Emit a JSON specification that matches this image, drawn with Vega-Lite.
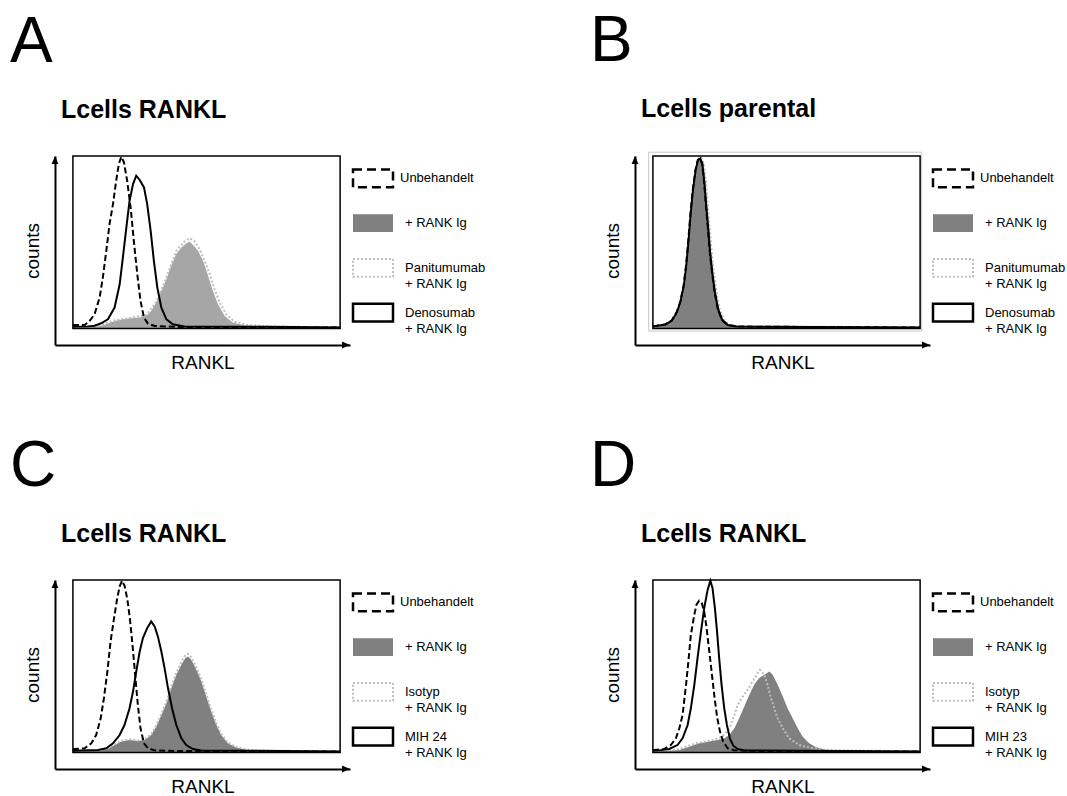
{
  "$schema": "https://vega.github.io/schema/vega-lite/v6.json",
  "background": "white",
  "padding": {"left": 10, "top": 9, "right": 0, "bottom": 0},
  "columns": 2,
  "spacing": {"row": 62, "column": 104},
  "datasets": {
    "A_untreated": [{"fluorescence":0,"counts":2},{"fluorescence":6,"counts":2},{"fluorescence":44,"counts":2},{"fluorescence":62,"counts":4.3},{"fluorescence":81,"counts":8.2},{"fluorescence":100,"counts":17.9},{"fluorescence":112,"counts":29.5},{"fluorescence":125,"counts":45},{"fluorescence":137,"counts":60.5},{"fluorescence":150,"counts":72.1},{"fluorescence":162,"counts":85.7},{"fluorescence":172,"counts":95.4},{"fluorescence":181,"counts":99.6},{"fluorescence":191,"counts":96.3},{"fluorescence":203,"counts":85.7},{"fluorescence":216,"counts":70.2},{"fluorescence":228,"counts":50.8},{"fluorescence":241,"counts":31.4},{"fluorescence":253,"counts":15.9},{"fluorescence":266,"counts":6.2},{"fluorescence":281,"counts":2.8},{"fluorescence":306,"counts":1.4},{"fluorescence":400,"counts":0.8},{"fluorescence":1000,"counts":0.5}],
    "A_antibody": [{"fluorescence":0,"counts":1},{"fluorescence":56,"counts":1.2},{"fluorescence":81,"counts":1.6},{"fluorescence":106,"counts":3},{"fluorescence":131,"counts":5.3},{"fluorescence":156,"counts":12.1},{"fluorescence":175,"counts":25.6},{"fluorescence":187,"counts":41.1},{"fluorescence":200,"counts":58.5},{"fluorescence":212,"counts":74},{"fluorescence":225,"counts":83.7},{"fluorescence":237,"counts":88.6},{"fluorescence":250,"counts":86.1},{"fluorescence":266,"counts":81.8},{"fluorescence":278,"counts":72.1},{"fluorescence":291,"counts":56.6},{"fluorescence":303,"counts":39.2},{"fluorescence":316,"counts":23.7},{"fluorescence":331,"counts":12.1},{"fluorescence":350,"counts":5.3},{"fluorescence":374,"counts":2.4},{"fluorescence":418,"counts":1.2},{"fluorescence":730,"counts":1},{"fluorescence":1000,"counts":0.5}],
    "A_rankig": [{"fluorescence":0,"counts":0.5},{"fluorescence":80,"counts":1},{"fluorescence":106,"counts":1.6},{"fluorescence":131,"counts":2.8},{"fluorescence":156,"counts":4.3},{"fluorescence":187,"counts":5.3},{"fluorescence":218,"counts":5.9},{"fluorescence":250,"counts":6.3},{"fluorescence":275,"counts":7.4},{"fluorescence":293,"counts":10.1},{"fluorescence":312,"counts":15},{"fluorescence":331,"counts":21.7},{"fluorescence":350,"counts":28.5},{"fluorescence":368,"counts":36.3},{"fluorescence":387,"counts":43.1},{"fluorescence":406,"counts":46.9},{"fluorescence":424,"counts":49.3},{"fluorescence":437,"counts":50.4},{"fluorescence":453,"counts":47.9},{"fluorescence":468,"counts":45},{"fluorescence":487,"counts":39.2},{"fluorescence":506,"counts":30.5},{"fluorescence":524,"counts":21.7},{"fluorescence":543,"counts":14},{"fluorescence":568,"counts":7.2},{"fluorescence":599,"counts":3.3},{"fluorescence":643,"counts":1.8},{"fluorescence":705,"counts":1},{"fluorescence":1000,"counts":0.5}],
    "A_control": [{"fluorescence":80,"counts":1.2},{"fluorescence":106,"counts":2},{"fluorescence":156,"counts":4.7},{"fluorescence":218,"counts":6.2},{"fluorescence":275,"counts":7.8},{"fluorescence":312,"counts":15.5},{"fluorescence":350,"counts":29.5},{"fluorescence":387,"counts":45},{"fluorescence":418,"counts":50.4},{"fluorescence":437,"counts":52.3},{"fluorescence":456,"counts":50.4},{"fluorescence":474,"counts":46},{"fluorescence":493,"counts":39.2},{"fluorescence":512,"counts":31.4},{"fluorescence":530,"counts":22.7},{"fluorescence":549,"counts":15},{"fluorescence":574,"counts":8.2},{"fluorescence":605,"counts":3.9},{"fluorescence":655,"counts":2},{"fluorescence":730,"counts":1.2},{"fluorescence":1000,"counts":0.6}],
    "B_rankig": [{"fluorescence":0,"counts":1},{"fluorescence":5,"counts":1.1},{"fluorescence":49,"counts":2.2},{"fluorescence":74,"counts":4.5},{"fluorescence":92,"counts":9.4},{"fluorescence":105,"counts":15.2},{"fluorescence":117,"counts":24.9},{"fluorescence":126,"counts":36.5},{"fluorescence":134,"counts":50.1},{"fluorescence":142,"counts":65.6},{"fluorescence":151,"counts":80.1},{"fluorescence":161,"counts":91.7},{"fluorescence":171,"counts":97.5},{"fluorescence":180,"counts":98.5},{"fluorescence":189,"counts":95.6},{"fluorescence":196,"counts":85.9},{"fluorescence":203,"counts":72.3},{"fluorescence":211,"counts":57.8},{"fluorescence":218,"counts":44.3},{"fluorescence":226,"counts":32.6},{"fluorescence":236,"counts":21},{"fluorescence":248,"counts":11.3},{"fluorescence":263,"counts":5.1},{"fluorescence":283,"counts":2},{"fluorescence":317,"counts":1.1},{"fluorescence":1000,"counts":0.6}],
    "B_control": [{"fluorescence":0,"counts":1.3},{"fluorescence":49,"counts":2.5},{"fluorescence":74,"counts":4.8},{"fluorescence":92,"counts":9.8},{"fluorescence":105,"counts":15.6},{"fluorescence":117,"counts":25.3},{"fluorescence":126,"counts":37},{"fluorescence":134,"counts":50.6},{"fluorescence":142,"counts":66},{"fluorescence":151,"counts":80.5},{"fluorescence":161,"counts":92},{"fluorescence":171,"counts":98},{"fluorescence":180,"counts":99.2},{"fluorescence":190,"counts":96},{"fluorescence":198,"counts":86},{"fluorescence":205,"counts":72.3},{"fluorescence":213,"counts":57.8},{"fluorescence":220,"counts":44.3},{"fluorescence":228,"counts":32.6},{"fluorescence":238,"counts":21},{"fluorescence":250,"counts":11.3},{"fluorescence":265,"counts":5.1},{"fluorescence":286,"counts":2},{"fluorescence":320,"counts":1.2},{"fluorescence":1000,"counts":0.7}],
    "B_untreated": [{"fluorescence":0,"counts":1.2},{"fluorescence":45,"counts":2.3},{"fluorescence":70,"counts":4.6},{"fluorescence":89,"counts":9.5},{"fluorescence":102,"counts":15.3},{"fluorescence":115,"counts":25},{"fluorescence":124,"counts":36.6},{"fluorescence":132,"counts":50.2},{"fluorescence":140,"counts":65.7},{"fluorescence":149,"counts":80.2},{"fluorescence":159,"counts":91.8},{"fluorescence":168,"counts":97.6},{"fluorescence":176,"counts":98.8},{"fluorescence":184,"counts":95.5},{"fluorescence":191,"counts":85.8},{"fluorescence":198,"counts":72.2},{"fluorescence":206,"counts":57.7},{"fluorescence":213,"counts":44.2},{"fluorescence":221,"counts":32.5},{"fluorescence":231,"counts":20.9},{"fluorescence":243,"counts":11.2},{"fluorescence":258,"counts":5},{"fluorescence":279,"counts":2},{"fluorescence":313,"counts":1.1},{"fluorescence":1000,"counts":0.5}],
    "B_antibody": [{"fluorescence":0,"counts":1.2},{"fluorescence":47,"counts":2.3},{"fluorescence":72,"counts":4.6},{"fluorescence":90,"counts":9.5},{"fluorescence":103,"counts":15.3},{"fluorescence":116,"counts":25},{"fluorescence":125,"counts":36.6},{"fluorescence":133,"counts":50.2},{"fluorescence":141,"counts":65.7},{"fluorescence":150,"counts":80.2},{"fluorescence":160,"counts":91.8},{"fluorescence":169,"counts":97.6},{"fluorescence":177,"counts":98.6},{"fluorescence":185,"counts":95.5},{"fluorescence":192,"counts":85.8},{"fluorescence":199,"counts":72.2},{"fluorescence":207,"counts":57.7},{"fluorescence":214,"counts":44.2},{"fluorescence":222,"counts":32.5},{"fluorescence":232,"counts":20.9},{"fluorescence":244,"counts":11.2},{"fluorescence":259,"counts":5},{"fluorescence":280,"counts":2},{"fluorescence":314,"counts":1.1},{"fluorescence":1000,"counts":0.5}],
    "C_untreated": [{"fluorescence":0,"counts":2},{"fluorescence":6,"counts":2},{"fluorescence":44,"counts":2.4},{"fluorescence":69,"counts":5.3},{"fluorescence":87,"counts":10.1},{"fluorescence":104,"counts":19.8},{"fluorescence":116,"counts":31.4},{"fluorescence":129,"counts":46.9},{"fluorescence":141,"counts":64.4},{"fluorescence":154,"counts":77.9},{"fluorescence":166,"counts":89.5},{"fluorescence":175,"counts":96.3},{"fluorescence":184,"counts":99.6},{"fluorescence":194,"counts":96.3},{"fluorescence":204,"counts":88.6},{"fluorescence":213,"counts":77.9},{"fluorescence":223,"counts":62.4},{"fluorescence":233,"counts":45},{"fluorescence":243,"counts":27.6},{"fluorescence":253,"counts":14},{"fluorescence":266,"counts":5.3},{"fluorescence":281,"counts":2.4},{"fluorescence":306,"counts":1.2},{"fluorescence":400,"counts":0.8},{"fluorescence":1000,"counts":0.5}],
    "C_antibody": [{"fluorescence":0,"counts":1},{"fluorescence":94,"counts":1.4},{"fluorescence":125,"counts":2.4},{"fluorescence":150,"counts":5.3},{"fluorescence":175,"counts":10.1},{"fluorescence":193,"counts":15.9},{"fluorescence":212,"counts":25.6},{"fluorescence":225,"counts":35.3},{"fluorescence":237,"counts":46.9},{"fluorescence":250,"counts":58.5},{"fluorescence":262,"counts":66.3},{"fluorescence":278,"counts":72.1},{"fluorescence":293,"counts":76},{"fluorescence":306,"counts":73.1},{"fluorescence":318,"counts":67.3},{"fluorescence":331,"counts":58.5},{"fluorescence":343,"counts":48.9},{"fluorescence":356,"counts":37.2},{"fluorescence":371,"counts":25.6},{"fluorescence":387,"counts":15.9},{"fluorescence":406,"counts":8.2},{"fluorescence":424,"counts":4.3},{"fluorescence":449,"counts":2},{"fluorescence":481,"counts":1.2},{"fluorescence":1000,"counts":0.5}],
    "C_rankig": [{"fluorescence":0,"counts":0.5},{"fluorescence":100,"counts":1},{"fluorescence":131,"counts":2},{"fluorescence":156,"counts":4.3},{"fluorescence":181,"counts":6.3},{"fluorescence":212,"counts":7.2},{"fluorescence":243,"counts":6.6},{"fluorescence":268,"counts":7.2},{"fluorescence":293,"counts":10.1},{"fluorescence":312,"counts":15},{"fluorescence":331,"counts":21.7},{"fluorescence":350,"counts":28.5},{"fluorescence":368,"counts":37.2},{"fluorescence":387,"counts":45},{"fluorescence":406,"counts":50.8},{"fluorescence":421,"counts":54.7},{"fluorescence":431,"counts":55.6},{"fluorescence":443,"counts":53.7},{"fluorescence":462,"counts":47.9},{"fluorescence":481,"counts":41.1},{"fluorescence":499,"counts":32.4},{"fluorescence":518,"counts":23.7},{"fluorescence":537,"counts":15.9},{"fluorescence":555,"counts":10.1},{"fluorescence":580,"counts":5.3},{"fluorescence":612,"counts":2.8},{"fluorescence":655,"counts":1.4},{"fluorescence":705,"counts":1},{"fluorescence":1000,"counts":0.5}],
    "C_control": [{"fluorescence":100,"counts":1.3},{"fluorescence":131,"counts":2.4},{"fluorescence":156,"counts":4.7},{"fluorescence":181,"counts":6.8},{"fluorescence":212,"counts":7.6},{"fluorescence":243,"counts":7},{"fluorescence":268,"counts":7.6},{"fluorescence":293,"counts":10.6},{"fluorescence":312,"counts":15.6},{"fluorescence":331,"counts":22.4},{"fluorescence":350,"counts":29.5},{"fluorescence":368,"counts":38.2},{"fluorescence":387,"counts":46.2},{"fluorescence":406,"counts":52.4},{"fluorescence":421,"counts":56.6},{"fluorescence":431,"counts":57.1},{"fluorescence":443,"counts":55.2},{"fluorescence":462,"counts":49.3},{"fluorescence":481,"counts":42.4},{"fluorescence":499,"counts":33.6},{"fluorescence":518,"counts":24.8},{"fluorescence":537,"counts":16.8},{"fluorescence":555,"counts":10.8},{"fluorescence":580,"counts":5.8},{"fluorescence":612,"counts":3.1},{"fluorescence":655,"counts":1.6},{"fluorescence":705,"counts":1.1},{"fluorescence":1000,"counts":0.6}],
    "D_untreated": [{"fluorescence":0,"counts":1.4},{"fluorescence":5,"counts":1.4},{"fluorescence":42,"counts":2},{"fluorescence":67,"counts":4.3},{"fluorescence":86,"counts":8.2},{"fluorescence":99,"counts":14},{"fluorescence":111,"counts":21.7},{"fluorescence":124,"counts":39.2},{"fluorescence":134,"counts":54.7},{"fluorescence":142,"counts":68.2},{"fluorescence":155,"counts":79.9},{"fluorescence":163,"counts":85.7},{"fluorescence":173,"counts":88},{"fluorescence":183,"counts":86.6},{"fluorescence":192,"counts":81.8},{"fluorescence":201,"counts":72.1},{"fluorescence":211,"counts":58.6},{"fluorescence":221,"counts":45},{"fluorescence":231,"counts":31.4},{"fluorescence":241,"counts":19.8},{"fluorescence":251,"counts":12.1},{"fluorescence":263,"counts":6.3},{"fluorescence":280,"counts":2.4},{"fluorescence":305,"counts":1.2},{"fluorescence":400,"counts":0.8},{"fluorescence":1000,"counts":0.5}],
    "D_antibody": [{"fluorescence":0,"counts":1},{"fluorescence":24,"counts":1.2},{"fluorescence":61,"counts":2},{"fluorescence":92,"counts":4.3},{"fluorescence":111,"counts":8.2},{"fluorescence":130,"counts":15.9},{"fluorescence":142,"counts":25.6},{"fluorescence":155,"counts":39.2},{"fluorescence":167,"counts":54.7},{"fluorescence":180,"counts":70.2},{"fluorescence":192,"counts":83.7},{"fluorescence":205,"counts":94.4},{"fluorescence":215,"counts":99.6},{"fluorescence":223,"counts":95.4},{"fluorescence":232,"counts":83.7},{"fluorescence":240,"counts":70.2},{"fluorescence":248,"counts":54.7},{"fluorescence":257,"counts":39.2},{"fluorescence":267,"counts":25.6},{"fluorescence":277,"counts":15.9},{"fluorescence":288,"counts":8.2},{"fluorescence":301,"counts":3.9},{"fluorescence":317,"counts":2},{"fluorescence":342,"counts":1.2},{"fluorescence":1000,"counts":0.5}],
    "D_rankig": [{"fluorescence":0,"counts":0.5},{"fluorescence":60,"counts":1},{"fluorescence":99,"counts":1.4},{"fluorescence":136,"counts":3.3},{"fluorescence":173,"counts":5.3},{"fluorescence":211,"counts":6.3},{"fluorescence":242,"counts":7.2},{"fluorescence":267,"counts":8.2},{"fluorescence":286,"counts":10.1},{"fluorescence":305,"counts":14},{"fluorescence":323,"counts":19.8},{"fluorescence":342,"counts":26.6},{"fluorescence":361,"counts":33.4},{"fluorescence":379,"counts":39.2},{"fluorescence":398,"counts":43.1},{"fluorescence":417,"counts":45},{"fluorescence":436,"counts":46.9},{"fluorescence":448,"counts":45},{"fluorescence":467,"counts":39.2},{"fluorescence":486,"counts":32.4},{"fluorescence":504,"counts":25.6},{"fluorescence":523,"counts":19.8},{"fluorescence":542,"counts":14},{"fluorescence":560,"counts":9.2},{"fluorescence":585,"counts":5.3},{"fluorescence":610,"counts":3},{"fluorescence":648,"counts":1.6},{"fluorescence":685,"counts":1},{"fluorescence":1000,"counts":0.5}],
    "D_control": [{"fluorescence":60,"counts":1.2},{"fluorescence":99,"counts":2},{"fluorescence":161,"counts":5.3},{"fluorescence":223,"counts":7.2},{"fluorescence":261,"counts":9.2},{"fluorescence":286,"counts":14},{"fluorescence":305,"counts":21.7},{"fluorescence":317,"counts":27.6},{"fluorescence":336,"counts":32.4},{"fluorescence":354,"counts":36.3},{"fluorescence":373,"counts":41.1},{"fluorescence":392,"counts":46},{"fluorescence":401,"counts":47.9},{"fluorescence":417,"counts":45},{"fluorescence":429,"counts":39.2},{"fluorescence":442,"counts":31.4},{"fluorescence":454,"counts":25.6},{"fluorescence":467,"counts":19.8},{"fluorescence":486,"counts":14},{"fluorescence":510,"counts":8.2},{"fluorescence":548,"counts":4.3},{"fluorescence":598,"counts":2.4},{"fluorescence":648,"counts":1.4},{"fluorescence":1000,"counts":0.6}],
    "legend_AB": [{"kind":"untreated","label":"Unbehandelt"},{"kind":"rankig","label":"+ RANK Ig"},{"kind":"control","label":"Panitumumab\n+ RANK Ig"},{"kind":"antibody","label":"Denosumab\n+ RANK Ig"}],
    "legend_C": [{"kind":"untreated","label":"Unbehandelt"},{"kind":"rankig","label":"+ RANK Ig"},{"kind":"control","label":"Isotyp\n+ RANK Ig"},{"kind":"antibody","label":"MIH 24\n+ RANK Ig"}],
    "legend_D": [{"kind":"untreated","label":"Unbehandelt"},{"kind":"rankig","label":"+ RANK Ig"},{"kind":"control","label":"Isotyp\n+ RANK Ig"},{"kind":"antibody","label":"MIH 23\n+ RANK Ig"}]
  },
  "concat": [
    {
      "title": {"text": "A", "fontSize": 64, "fontWeight": "normal", "dx": -45, "offset": 23},
      "bounds": "flush", "spacing": 3,
      "hconcat": [
        {
          "title": {"text": "Lcells RANKL", "fontSize": 25, "fontWeight": "bold", "dx": 6, "offset": 30},
          "width": 295, "height": 189,
          "layer": [
            {"data": {"name": "A_rankig"}, "mark": {"type": "area", "color": "#a6a6a6", "opacity": 1}, "encoding": {"x": {"field": "fluorescence", "type": "quantitative", "scale": {"domain": [-67, 1037], "nice": false, "zero": false}, "axis": {"title": "RANKL"}}, "y": {"field": "counts", "type": "quantitative", "scale": {"domain": [-9.6, 100], "nice": false, "zero": false}, "axis": {"title": "counts"}}, "y2": {"datum": 0}}},
            {"data": {"name": "A_control"}, "mark": {"type": "line", "color": "#bdbdbd", "strokeWidth": 2, "strokeDash": [2, 2]}, "encoding": {"x": {"field": "fluorescence", "type": "quantitative", "axis": {"title": "RANKL"}}, "y": {"field": "counts", "type": "quantitative", "axis": {"title": "counts"}}}},
            {"data": {"name": "A_untreated"}, "mark": {"type": "line", "color": "black", "strokeWidth": 2, "strokeDash": [6, 3]}, "encoding": {"x": {"field": "fluorescence", "type": "quantitative", "axis": {"title": "RANKL"}}, "y": {"field": "counts", "type": "quantitative", "axis": {"title": "counts"}}}},
            {"data": {"name": "A_antibody"}, "mark": {"type": "line", "color": "black", "strokeWidth": 2}, "encoding": {"x": {"field": "fluorescence", "type": "quantitative", "axis": {"title": "RANKL"}}, "y": {"field": "counts", "type": "quantitative", "axis": {"title": "counts"}}}},
            {"data": {"values": [{"part": "frame"}]}, "mark": {"type": "rect", "fill": "transparent", "stroke": "black", "strokeWidth": 1.5}, "encoding": {"x": {"datum": 0, "type": "quantitative", "axis": {"title": "RANKL"}}, "x2": {"datum": 1000}, "y": {"datum": 0, "type": "quantitative", "axis": {"title": "counts"}}, "y2": {"datum": 100}}},
            {"data": {"values": [{"part": "arrow"}]}, "mark": {"type": "point", "shape": "M-1,-0.85L1,0L-1,0.85Z", "size": 64, "filled": true, "color": "black", "opacity": 1}, "encoding": {"x": {"datum": 1022, "type": "quantitative", "axis": {"title": "RANKL"}}, "y": {"datum": -9.6, "type": "quantitative", "axis": {"title": "counts"}}}},
            {"data": {"values": [{"part": "arrow"}]}, "mark": {"type": "point", "shape": "M-0.85,1L0,-1L0.85,1Z", "size": 64, "filled": true, "color": "black", "opacity": 1}, "encoding": {"x": {"datum": -67, "type": "quantitative", "axis": {"title": "RANKL"}}, "y": {"datum": 97.7, "type": "quantitative", "axis": {"title": "counts"}}}}
          ]
        },
        {
          "width": 132, "height": 179,
          "data": {"name": "legend_AB"},
          "encoding": {"y": {"field": "kind", "type": "nominal", "scale": {"type": "band", "domain": ["untreated", "rankig", "control", "antibody"], "paddingInner": 0.6, "paddingOuter": 0.3}, "axis": null}},
          "layer": [
            {"transform": [{"filter": "datum.kind === 'untreated'"}], "mark": {"type": "rect", "fill": "transparent", "stroke": "black", "strokeWidth": 2.5, "strokeDash": [9, 5]}, "encoding": {"x": {"datum": 0, "type": "quantitative", "scale": {"domain": [0, 132], "nice": false, "zero": false}, "axis": null}, "x2": {"datum": 40}}},
            {"transform": [{"filter": "datum.kind === 'rankig'"}], "mark": {"type": "rect", "fill": "#808080"}, "encoding": {"x": {"datum": 0, "type": "quantitative", "axis": null}, "x2": {"datum": 40}}},
            {"transform": [{"filter": "datum.kind === 'control'"}], "mark": {"type": "rect", "fill": "transparent", "stroke": "#c0c0c0", "strokeWidth": 2, "strokeDash": [2, 2]}, "encoding": {"x": {"datum": 0, "type": "quantitative", "axis": null}, "x2": {"datum": 40}}},
            {"transform": [{"filter": "datum.kind === 'antibody'"}], "mark": {"type": "rect", "fill": "transparent", "stroke": "black", "strokeWidth": 2.5}, "encoding": {"x": {"datum": 0, "type": "quantitative", "axis": null}, "x2": {"datum": 40}}},
            {"transform": [{"filter": "datum.kind === 'untreated'"}], "mark": {"type": "text", "align": "left", "baseline": "middle", "fontSize": 13, "color": "black"}, "encoding": {"x": {"datum": 47, "type": "quantitative", "axis": null}, "text": {"field": "label"}}},
            {"transform": [{"filter": "datum.kind !== 'untreated'"}], "mark": {"type": "text", "align": "left", "baseline": "middle", "fontSize": 13, "lineBreak": "\n", "lineHeight": 16, "color": "black"}, "encoding": {"x": {"datum": 52, "type": "quantitative", "axis": null}, "text": {"field": "label"}}}
          ]
        }
      ]
    },
    {
      "title": {"text": "B", "fontSize": 64, "fontWeight": "normal", "dx": -45, "offset": 23},
      "bounds": "flush", "spacing": 3,
      "hconcat": [
        {
          "title": {"text": "Lcells parental", "fontSize": 25, "fontWeight": "bold", "dx": 6, "offset": 30},
          "width": 295, "height": 189,
          "layer": [
            {"data": {"values": [{"part": "outer frame"}]}, "mark": {"type": "rect", "fill": "transparent", "stroke": "#c8c8c8", "strokeWidth": 1}, "encoding": {"x": {"datum": -16, "type": "quantitative", "scale": {"domain": [-67, 1037], "nice": false, "zero": false}, "axis": {"title": "RANKL"}}, "x2": {"datum": 1006}, "y": {"datum": -1.5, "type": "quantitative", "scale": {"domain": [-9.6, 100], "nice": false, "zero": false}, "axis": {"title": "counts"}}, "y2": {"datum": 102.2}}},
            {"data": {"name": "B_rankig"}, "mark": {"type": "area", "color": "#808080", "opacity": 1}, "encoding": {"x": {"field": "fluorescence", "type": "quantitative", "scale": {"domain": [-67, 1037], "nice": false, "zero": false}, "axis": {"title": "RANKL"}}, "y": {"field": "counts", "type": "quantitative", "scale": {"domain": [-9.6, 100], "nice": false, "zero": false}, "axis": {"title": "counts"}}, "y2": {"datum": 0}}},
            {"data": {"name": "B_control"}, "mark": {"type": "line", "color": "#bdbdbd", "strokeWidth": 2, "strokeDash": [2, 2]}, "encoding": {"x": {"field": "fluorescence", "type": "quantitative", "axis": {"title": "RANKL"}}, "y": {"field": "counts", "type": "quantitative", "axis": {"title": "counts"}}}},
            {"data": {"name": "B_untreated"}, "mark": {"type": "line", "color": "black", "strokeWidth": 2, "strokeDash": [6, 3]}, "encoding": {"x": {"field": "fluorescence", "type": "quantitative", "axis": {"title": "RANKL"}}, "y": {"field": "counts", "type": "quantitative", "axis": {"title": "counts"}}}},
            {"data": {"name": "B_antibody"}, "mark": {"type": "line", "color": "black", "strokeWidth": 2}, "encoding": {"x": {"field": "fluorescence", "type": "quantitative", "axis": {"title": "RANKL"}}, "y": {"field": "counts", "type": "quantitative", "axis": {"title": "counts"}}}},
            {"data": {"values": [{"part": "frame"}]}, "mark": {"type": "rect", "fill": "transparent", "stroke": "black", "strokeWidth": 1.5}, "encoding": {"x": {"datum": 0, "type": "quantitative", "axis": {"title": "RANKL"}}, "x2": {"datum": 1000}, "y": {"datum": 0, "type": "quantitative", "axis": {"title": "counts"}}, "y2": {"datum": 100}}},
            {"data": {"values": [{"part": "arrow"}]}, "mark": {"type": "point", "shape": "M-1,-0.85L1,0L-1,0.85Z", "size": 64, "filled": true, "color": "black", "opacity": 1}, "encoding": {"x": {"datum": 1022, "type": "quantitative", "axis": {"title": "RANKL"}}, "y": {"datum": -9.6, "type": "quantitative", "axis": {"title": "counts"}}}},
            {"data": {"values": [{"part": "arrow"}]}, "mark": {"type": "point", "shape": "M-0.85,1L0,-1L0.85,1Z", "size": 64, "filled": true, "color": "black", "opacity": 1}, "encoding": {"x": {"datum": -67, "type": "quantitative", "axis": {"title": "RANKL"}}, "y": {"datum": 97.7, "type": "quantitative", "axis": {"title": "counts"}}}}
          ]
        },
        {
          "width": 132, "height": 179,
          "data": {"name": "legend_AB"},
          "encoding": {"y": {"field": "kind", "type": "nominal", "scale": {"type": "band", "domain": ["untreated", "rankig", "control", "antibody"], "paddingInner": 0.6, "paddingOuter": 0.3}, "axis": null}},
          "layer": [
            {"transform": [{"filter": "datum.kind === 'untreated'"}], "mark": {"type": "rect", "fill": "transparent", "stroke": "black", "strokeWidth": 2.5, "strokeDash": [9, 5]}, "encoding": {"x": {"datum": 0, "type": "quantitative", "scale": {"domain": [0, 132], "nice": false, "zero": false}, "axis": null}, "x2": {"datum": 40}}},
            {"transform": [{"filter": "datum.kind === 'rankig'"}], "mark": {"type": "rect", "fill": "#808080"}, "encoding": {"x": {"datum": 0, "type": "quantitative", "axis": null}, "x2": {"datum": 40}}},
            {"transform": [{"filter": "datum.kind === 'control'"}], "mark": {"type": "rect", "fill": "transparent", "stroke": "#c0c0c0", "strokeWidth": 2, "strokeDash": [2, 2]}, "encoding": {"x": {"datum": 0, "type": "quantitative", "axis": null}, "x2": {"datum": 40}}},
            {"transform": [{"filter": "datum.kind === 'antibody'"}], "mark": {"type": "rect", "fill": "transparent", "stroke": "black", "strokeWidth": 2.5}, "encoding": {"x": {"datum": 0, "type": "quantitative", "axis": null}, "x2": {"datum": 40}}},
            {"transform": [{"filter": "datum.kind === 'untreated'"}], "mark": {"type": "text", "align": "left", "baseline": "middle", "fontSize": 13, "color": "black"}, "encoding": {"x": {"datum": 47, "type": "quantitative", "axis": null}, "text": {"field": "label"}}},
            {"transform": [{"filter": "datum.kind !== 'untreated'"}], "mark": {"type": "text", "align": "left", "baseline": "middle", "fontSize": 13, "lineBreak": "\n", "lineHeight": 16, "color": "black"}, "encoding": {"x": {"datum": 52, "type": "quantitative", "axis": null}, "text": {"field": "label"}}}
          ]
        }
      ]
    },
    {
      "title": {"text": "C", "fontSize": 64, "fontWeight": "normal", "dx": -45, "offset": 23},
      "bounds": "flush", "spacing": 3,
      "hconcat": [
        {
          "title": {"text": "Lcells RANKL", "fontSize": 25, "fontWeight": "bold", "dx": 6, "offset": 30},
          "width": 295, "height": 189,
          "layer": [
            {"data": {"name": "C_rankig"}, "mark": {"type": "area", "color": "#808080", "opacity": 1}, "encoding": {"x": {"field": "fluorescence", "type": "quantitative", "scale": {"domain": [-67, 1037], "nice": false, "zero": false}, "axis": {"title": "RANKL"}}, "y": {"field": "counts", "type": "quantitative", "scale": {"domain": [-9.6, 100], "nice": false, "zero": false}, "axis": {"title": "counts"}}, "y2": {"datum": 0}}},
            {"data": {"name": "C_control"}, "mark": {"type": "line", "color": "#bdbdbd", "strokeWidth": 2, "strokeDash": [2, 2]}, "encoding": {"x": {"field": "fluorescence", "type": "quantitative", "axis": {"title": "RANKL"}}, "y": {"field": "counts", "type": "quantitative", "axis": {"title": "counts"}}}},
            {"data": {"name": "C_untreated"}, "mark": {"type": "line", "color": "black", "strokeWidth": 2, "strokeDash": [6, 3]}, "encoding": {"x": {"field": "fluorescence", "type": "quantitative", "axis": {"title": "RANKL"}}, "y": {"field": "counts", "type": "quantitative", "axis": {"title": "counts"}}}},
            {"data": {"name": "C_antibody"}, "mark": {"type": "line", "color": "black", "strokeWidth": 2}, "encoding": {"x": {"field": "fluorescence", "type": "quantitative", "axis": {"title": "RANKL"}}, "y": {"field": "counts", "type": "quantitative", "axis": {"title": "counts"}}}},
            {"data": {"values": [{"part": "frame"}]}, "mark": {"type": "rect", "fill": "transparent", "stroke": "black", "strokeWidth": 1.5}, "encoding": {"x": {"datum": 0, "type": "quantitative", "axis": {"title": "RANKL"}}, "x2": {"datum": 1000}, "y": {"datum": 0, "type": "quantitative", "axis": {"title": "counts"}}, "y2": {"datum": 100}}},
            {"data": {"values": [{"part": "arrow"}]}, "mark": {"type": "point", "shape": "M-1,-0.85L1,0L-1,0.85Z", "size": 64, "filled": true, "color": "black", "opacity": 1}, "encoding": {"x": {"datum": 1022, "type": "quantitative", "axis": {"title": "RANKL"}}, "y": {"datum": -9.6, "type": "quantitative", "axis": {"title": "counts"}}}},
            {"data": {"values": [{"part": "arrow"}]}, "mark": {"type": "point", "shape": "M-0.85,1L0,-1L0.85,1Z", "size": 64, "filled": true, "color": "black", "opacity": 1}, "encoding": {"x": {"datum": -67, "type": "quantitative", "axis": {"title": "RANKL"}}, "y": {"datum": 97.7, "type": "quantitative", "axis": {"title": "counts"}}}}
          ]
        },
        {
          "width": 132, "height": 179,
          "data": {"name": "legend_C"},
          "encoding": {"y": {"field": "kind", "type": "nominal", "scale": {"type": "band", "domain": ["untreated", "rankig", "control", "antibody"], "paddingInner": 0.6, "paddingOuter": 0.3}, "axis": null}},
          "layer": [
            {"transform": [{"filter": "datum.kind === 'untreated'"}], "mark": {"type": "rect", "fill": "transparent", "stroke": "black", "strokeWidth": 2.5, "strokeDash": [9, 5]}, "encoding": {"x": {"datum": 0, "type": "quantitative", "scale": {"domain": [0, 132], "nice": false, "zero": false}, "axis": null}, "x2": {"datum": 40}}},
            {"transform": [{"filter": "datum.kind === 'rankig'"}], "mark": {"type": "rect", "fill": "#808080"}, "encoding": {"x": {"datum": 0, "type": "quantitative", "axis": null}, "x2": {"datum": 40}}},
            {"transform": [{"filter": "datum.kind === 'control'"}], "mark": {"type": "rect", "fill": "transparent", "stroke": "#c0c0c0", "strokeWidth": 2, "strokeDash": [2, 2]}, "encoding": {"x": {"datum": 0, "type": "quantitative", "axis": null}, "x2": {"datum": 40}}},
            {"transform": [{"filter": "datum.kind === 'antibody'"}], "mark": {"type": "rect", "fill": "transparent", "stroke": "black", "strokeWidth": 2.5}, "encoding": {"x": {"datum": 0, "type": "quantitative", "axis": null}, "x2": {"datum": 40}}},
            {"transform": [{"filter": "datum.kind === 'untreated'"}], "mark": {"type": "text", "align": "left", "baseline": "middle", "fontSize": 13, "color": "black"}, "encoding": {"x": {"datum": 47, "type": "quantitative", "axis": null}, "text": {"field": "label"}}},
            {"transform": [{"filter": "datum.kind !== 'untreated'"}], "mark": {"type": "text", "align": "left", "baseline": "middle", "fontSize": 13, "lineBreak": "\n", "lineHeight": 16, "color": "black"}, "encoding": {"x": {"datum": 52, "type": "quantitative", "axis": null}, "text": {"field": "label"}}}
          ]
        }
      ]
    },
    {
      "title": {"text": "D", "fontSize": 64, "fontWeight": "normal", "dx": -45, "offset": 23},
      "bounds": "flush", "spacing": 3,
      "hconcat": [
        {
          "title": {"text": "Lcells RANKL", "fontSize": 25, "fontWeight": "bold", "dx": 6, "offset": 30},
          "width": 295, "height": 189,
          "layer": [
            {"data": {"name": "D_rankig"}, "mark": {"type": "area", "color": "#808080", "opacity": 1}, "encoding": {"x": {"field": "fluorescence", "type": "quantitative", "scale": {"domain": [-67, 1037], "nice": false, "zero": false}, "axis": {"title": "RANKL"}}, "y": {"field": "counts", "type": "quantitative", "scale": {"domain": [-9.6, 100], "nice": false, "zero": false}, "axis": {"title": "counts"}}, "y2": {"datum": 0}}},
            {"data": {"name": "D_control"}, "mark": {"type": "line", "color": "#bdbdbd", "strokeWidth": 2, "strokeDash": [2, 2]}, "encoding": {"x": {"field": "fluorescence", "type": "quantitative", "axis": {"title": "RANKL"}}, "y": {"field": "counts", "type": "quantitative", "axis": {"title": "counts"}}}},
            {"data": {"name": "D_untreated"}, "mark": {"type": "line", "color": "black", "strokeWidth": 2, "strokeDash": [6, 3]}, "encoding": {"x": {"field": "fluorescence", "type": "quantitative", "axis": {"title": "RANKL"}}, "y": {"field": "counts", "type": "quantitative", "axis": {"title": "counts"}}}},
            {"data": {"name": "D_antibody"}, "mark": {"type": "line", "color": "black", "strokeWidth": 2}, "encoding": {"x": {"field": "fluorescence", "type": "quantitative", "axis": {"title": "RANKL"}}, "y": {"field": "counts", "type": "quantitative", "axis": {"title": "counts"}}}},
            {"data": {"values": [{"part": "frame"}]}, "mark": {"type": "rect", "fill": "transparent", "stroke": "black", "strokeWidth": 1.5}, "encoding": {"x": {"datum": 0, "type": "quantitative", "axis": {"title": "RANKL"}}, "x2": {"datum": 1000}, "y": {"datum": 0, "type": "quantitative", "axis": {"title": "counts"}}, "y2": {"datum": 100}}},
            {"data": {"values": [{"part": "arrow"}]}, "mark": {"type": "point", "shape": "M-1,-0.85L1,0L-1,0.85Z", "size": 64, "filled": true, "color": "black", "opacity": 1}, "encoding": {"x": {"datum": 1022, "type": "quantitative", "axis": {"title": "RANKL"}}, "y": {"datum": -9.6, "type": "quantitative", "axis": {"title": "counts"}}}},
            {"data": {"values": [{"part": "arrow"}]}, "mark": {"type": "point", "shape": "M-0.85,1L0,-1L0.85,1Z", "size": 64, "filled": true, "color": "black", "opacity": 1}, "encoding": {"x": {"datum": -67, "type": "quantitative", "axis": {"title": "RANKL"}}, "y": {"datum": 97.7, "type": "quantitative", "axis": {"title": "counts"}}}}
          ]
        },
        {
          "width": 132, "height": 179,
          "data": {"name": "legend_D"},
          "encoding": {"y": {"field": "kind", "type": "nominal", "scale": {"type": "band", "domain": ["untreated", "rankig", "control", "antibody"], "paddingInner": 0.6, "paddingOuter": 0.3}, "axis": null}},
          "layer": [
            {"transform": [{"filter": "datum.kind === 'untreated'"}], "mark": {"type": "rect", "fill": "transparent", "stroke": "black", "strokeWidth": 2.5, "strokeDash": [9, 5]}, "encoding": {"x": {"datum": 0, "type": "quantitative", "scale": {"domain": [0, 132], "nice": false, "zero": false}, "axis": null}, "x2": {"datum": 40}}},
            {"transform": [{"filter": "datum.kind === 'rankig'"}], "mark": {"type": "rect", "fill": "#808080"}, "encoding": {"x": {"datum": 0, "type": "quantitative", "axis": null}, "x2": {"datum": 40}}},
            {"transform": [{"filter": "datum.kind === 'control'"}], "mark": {"type": "rect", "fill": "transparent", "stroke": "#c0c0c0", "strokeWidth": 2, "strokeDash": [2, 2]}, "encoding": {"x": {"datum": 0, "type": "quantitative", "axis": null}, "x2": {"datum": 40}}},
            {"transform": [{"filter": "datum.kind === 'antibody'"}], "mark": {"type": "rect", "fill": "transparent", "stroke": "black", "strokeWidth": 2.5}, "encoding": {"x": {"datum": 0, "type": "quantitative", "axis": null}, "x2": {"datum": 40}}},
            {"transform": [{"filter": "datum.kind === 'untreated'"}], "mark": {"type": "text", "align": "left", "baseline": "middle", "fontSize": 13, "color": "black"}, "encoding": {"x": {"datum": 47, "type": "quantitative", "axis": null}, "text": {"field": "label"}}},
            {"transform": [{"filter": "datum.kind !== 'untreated'"}], "mark": {"type": "text", "align": "left", "baseline": "middle", "fontSize": 13, "lineBreak": "\n", "lineHeight": 16, "color": "black"}, "encoding": {"x": {"datum": 52, "type": "quantitative", "axis": null}, "text": {"field": "label"}}}
          ]
        }
      ]
    }
  ],
  "config": {
    "font": "Liberation Sans",
    "view": {"stroke": null},
    "axis": {"domainColor": "black", "domainWidth": 2, "ticks": false, "labels": false, "grid": false, "titleFont": "Liberation Sans", "titleFontSize": 19, "titleFontWeight": "normal", "titleColor": "black"},
    "axisX": {"titlePadding": 8},
    "axisY": {"titlePadding": 13},
    "title": {"font": "Liberation Sans", "color": "black", "anchor": "start", "frame": "group"}
  }
}
